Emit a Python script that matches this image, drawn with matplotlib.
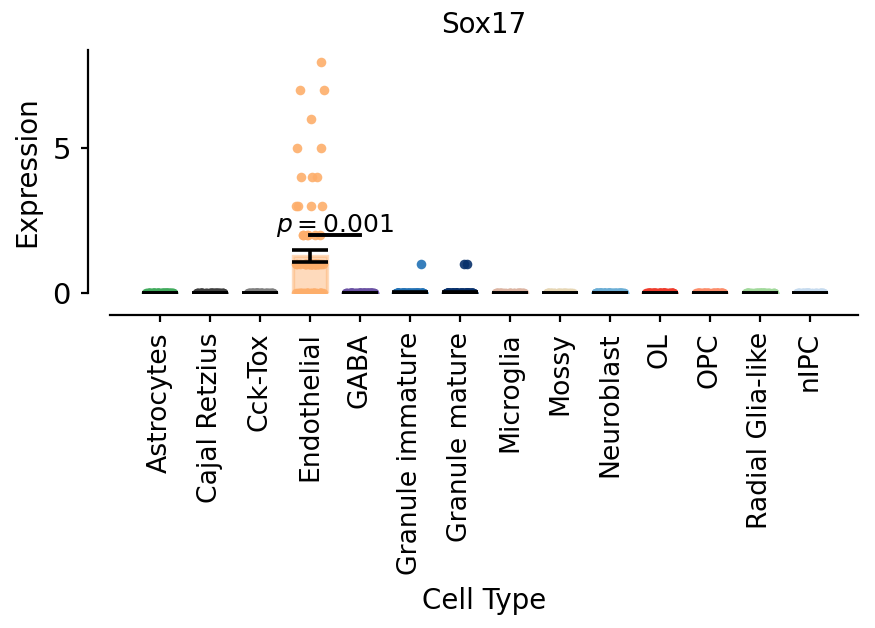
import numpy as np
import matplotlib
matplotlib.use('Agg')
import matplotlib.pyplot as plt

# cell types and colours
cell_types = ['Astrocytes', 'Cajal Retzius', 'Cck-Tox', 'Endothelial', 'GABA',
              'Granule immature', 'Granule mature', 'Microglia', 'Mossy',
              'Neuroblast', 'OL', 'OPC', 'Radial Glia-like', 'nIPC']
colors = ['#41ab5d', '#3f3f3f', '#7f7f7f', '#fdae6b', '#6a51a3', '#2171b5',
          '#08306b', '#dcb4a2', '#e6d6b4', '#6baed6', '#ef3b2c', '#fc8d6a',
          '#a1d99b', '#c6dbef']

# expression values per cell type (non-zero cells) and number of zero cells
nonzero_values = {
    'Endothelial': [8, 7, 7, 6, 5, 5, 4, 4, 4, 3, 3, 3, 3, 2, 2, 2, 2, 2, 2] + [1] * 30,
    'Granule immature': [1],
    'Granule mature': [1, 1],
}
zero_counts = [60, 45, 50, 32, 70, 90, 120, 40, 35, 80, 65, 55, 50, 45]

# p-value annotation between Endothelial and GABA
p_pair = ('Endothelial', 'GABA')
p_label = r'$p = 0.001$'
p_height = 2.0

fig = plt.figure(figsize=(4.375, 3.14), dpi=200)
ax = fig.add_axes([110 / 875, 1 - 293 / 628, (858 - 110) / 875, (293 - 50) / 628])

rng = np.random.default_rng(3)
for i, (ct, col) in enumerate(zip(cell_types, colors)):
    vals = np.array(nonzero_values.get(ct, []) + [0] * zero_counts[i], dtype=float)
    mean = vals.mean()
    se = vals.std(ddof=1) / np.sqrt(len(vals))

    # bar of the mean
    ax.bar(i, mean, width=0.68, color=col, alpha=0.45, edgecolor=col,
           linewidth=1.2, zorder=1)

    # jittered points
    jit = rng.uniform(-0.28, 0.28, len(vals))
    ax.scatter(i + jit, vals, s=12, color=col, alpha=0.9, linewidths=0, zorder=2)

    # standard error
    ax.errorbar(i, mean, yerr=se, color='black', capsize=6.5, elinewidth=1.3,
                capthick=1.3, zorder=3)

# p-value bracket
x1 = cell_types.index(p_pair[0])
x2 = cell_types.index(p_pair[1])
ax.plot([x1, x2], [p_height, p_height], color='black', lw=1.4, zorder=4)
ax.text((x1 + x2) / 2, p_height + 0.1, p_label, ha='center', va='baseline',
        fontsize=9, zorder=5)

# axes style
ax.set_xlim(-1, 13.96)
ax.set_ylim(0, 8.4)
ax.set_yticks([0, 5])
ax.set_xticks(range(len(cell_types)))
ax.set_xticklabels(cell_types)
ax.tick_params(axis='x', labelrotation=90, labelsize=9.6, length=2.6)
ax.tick_params(axis='y', labelsize=10.5, length=2.6)
for side in ['top', 'right']:
    ax.spines[side].set_visible(False)
for side in ['left', 'bottom']:
    ax.spines[side].set_position(('outward', 8))

ax.set_xlabel('Cell Type', fontsize=10)
ax.set_ylabel('Expression', fontsize=10)
ax.set_title('Sox17', fontsize=10)

fig.savefig('out.png', dpi=200)
